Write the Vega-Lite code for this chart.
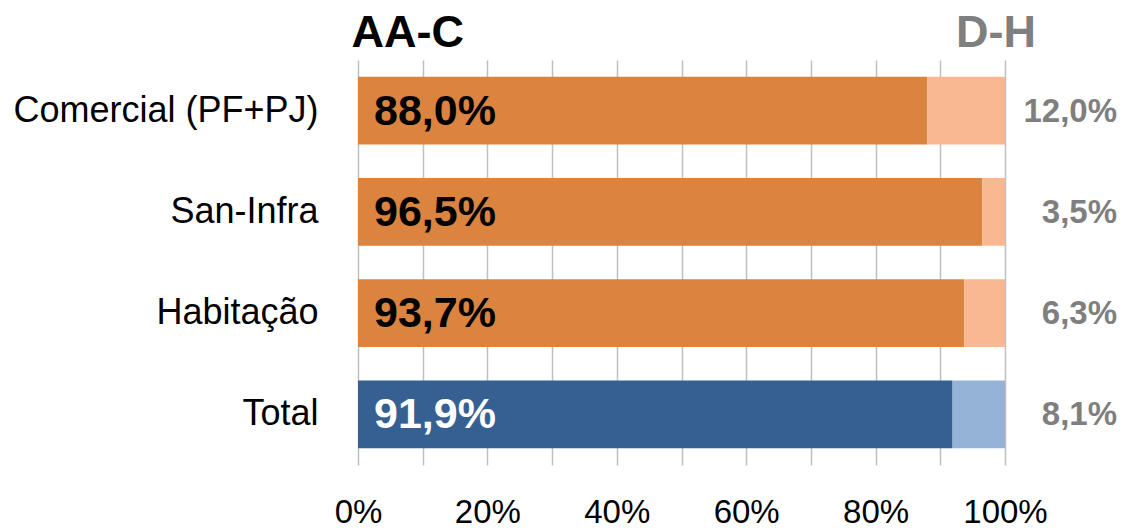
{
  "$schema": "https://vega.github.io/schema/vega-lite/v6.json",
  "width": 647,
  "height": 405,
  "autosize": {"type": "none"},
  "padding": {"left": 358, "top": 60, "right": 123, "bottom": 65},
  "background": "white",
  "config": {
    "view": {"stroke": null},
    "locale": {"number": {"decimal": ",", "thousands": ".", "grouping": [3], "currency": ["R$ ", ""]}}
  },
  "data": {
    "values": [
      {"cat": "Comercial (PF+PJ)", "seg": "AA-C laranja", "ord": 1, "value": 0.880},
      {"cat": "Comercial (PF+PJ)", "seg": "D-H laranja", "ord": 2, "value": 0.120},
      {"cat": "San-Infra", "seg": "AA-C laranja", "ord": 1, "value": 0.965},
      {"cat": "San-Infra", "seg": "D-H laranja", "ord": 2, "value": 0.035},
      {"cat": "Habitação", "seg": "AA-C laranja", "ord": 1, "value": 0.937},
      {"cat": "Habitação", "seg": "D-H laranja", "ord": 2, "value": 0.063},
      {"cat": "Total", "seg": "AA-C azul", "ord": 1, "value": 0.919},
      {"cat": "Total", "seg": "D-H azul", "ord": 2, "value": 0.081}
    ]
  },
  "encoding": {
    "y": {
      "field": "cat",
      "type": "nominal",
      "sort": ["Comercial (PF+PJ)", "San-Infra", "Habitação", "Total"],
      "scale": {"paddingInner": 0.33, "paddingOuter": 0.165},
      "axis": {
        "title": null,
        "ticks": false,
        "domain": false,
        "labelFont": "Liberation Sans",
        "labelFontSize": 36,
        "labelColor": "black",
        "labelPadding": 40,
        "labelLimit": 400
      }
    }
  },
  "layer": [
    {
      "mark": {"type": "bar"},
      "encoding": {
        "x": {
          "field": "value",
          "type": "quantitative",
          "stack": "zero",
          "scale": {"domain": [0, 1], "nice": false},
          "axis": {
            "orient": "bottom",
            "title": null,
            "values": [0, 0.1, 0.2, 0.3, 0.4, 0.5, 0.6, 0.7, 0.8, 0.9, 1],
            "format": ".0%",
            "labelExpr": "round(datum.value * 100) % 20 == 0 ? datum.label : ''",
            "labelFlush": false,
            "grid": true,
            "gridColor": "#BFBFBF",
            "gridWidth": 1.5,
            "ticks": false,
            "domain": false,
            "labelFont": "Liberation Sans",
            "labelFontSize": 33,
            "labelColor": "black",
            "labelPadding": 31
          }
        },
        "color": {
          "field": "seg",
          "type": "nominal",
          "scale": {
            "domain": ["AA-C laranja", "D-H laranja", "AA-C azul", "D-H azul"],
            "range": ["#DB843F", "#F9B891", "#376092", "#95B3D7"]
          },
          "legend": null
        },
        "order": {"field": "ord", "type": "quantitative"}
      }
    },
    {
      "transform": [{"filter": "datum.ord == 1"}],
      "mark": {
        "type": "text",
        "align": "left",
        "baseline": "middle",
        "dx": 16,
        "dy": 1,
        "font": "Liberation Sans",
        "fontWeight": "bold",
        "fontSize": 43
      },
      "encoding": {
        "x": {
          "datum": 0,
          "type": "quantitative",
          "axis": {
            "orient": "top",
            "title": null,
            "values": [0, 0.996],
            "labelExpr": "datum.value == 0 ? 'AA-C' : 'D-H'",
            "labelAlign": {"condition": {"test": "datum.value == 0", "value": "left"}, "value": "center"},
            "labelColor": {"condition": {"test": "datum.value == 0", "value": "black"}, "value": "#7F7F7F"},
            "labelOffset": -7,
            "labelFlush": false,
            "labelFont": "Liberation Sans",
            "labelFontWeight": "bold",
            "labelFontSize": 45,
            "labelPadding": 5,
            "ticks": false,
            "domain": false,
            "grid": false
          }
        },
        "text": {"field": "value", "type": "quantitative", "format": ".1%"},
        "color": {"condition": {"test": "datum.cat == 'Total'", "value": "white"}, "value": "black"}
      }
    },
    {
      "transform": [{"filter": "datum.ord == 2"}],
      "mark": {
        "type": "text",
        "align": "right",
        "baseline": "middle",
        "dx": 112,
        "dy": 1,
        "font": "Liberation Sans",
        "fontWeight": "bold",
        "fontSize": 33,
        "color": "#7F7F7F"
      },
      "encoding": {
        "x": {"datum": 1, "type": "quantitative", "axis": null},
        "text": {"field": "value", "type": "quantitative", "format": ".1%"}
      }
    }
  ],
  "resolve": {"axis": {"x": "independent"}}
}
